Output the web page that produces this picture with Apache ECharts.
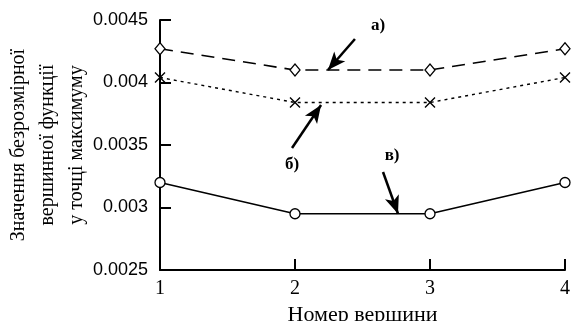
<!DOCTYPE html>
<html><head><meta charset="utf-8">
<script src="https://cdn.jsdelivr.net/npm/echarts@6/dist/echarts.min.js"></script>
<style>html,body{margin:0;background:#fff}#c{width:576px;height:321px}</style>
</head><body><div id="c"></div>
<script>
// ---- data ----
const vertices = [1, 2, 3, 4];
const seriesA = [0.00427, 0.0041, 0.0041, 0.00427];   // а) dashed, diamonds
const seriesB = [0.00404, 0.00384, 0.00384, 0.00404]; // б) dotted, crosses
const seriesC = [0.0032, 0.00295, 0.00295, 0.0032];   // в) solid, circles
const yAxisName = ['Значення безрозмірної', 'вершинної функції', 'у точці максимуму'];
const xAxisName = 'Номер вершини';
// annotations in data coordinates: [label, labelPos, arrowStart, arrowTip]
const annotations = [
  ['а)', [2.615, 0.004452], [2.444, 0.004348], [2.244, 0.0041]],
  ['б)', [1.978, 0.00334], [1.978, 0.003476], [2.193, 0.00382]],
  ['в)', [2.719, 0.003412], [2.652, 0.003284], [2.763, 0.00295]]
];

const pair = (xs, ys) => xs.map((x, i) => [x, ys[i]]);
const serif = 'Liberation Serif';
const chart = echarts.init(document.getElementById('c'), null, {renderer: 'canvas'});

const annLines = annotations.map(a => [
  {coord: a[2], symbol: 'none'},
  {coord: a[3], symbol: 'arrow'}
]);
const annLabels = annotations.map(a => ({
  coord: a[1], value: a[0], symbol: 'circle', symbolSize: 0,
  label: {show: true, formatter: a[0], position: 'inside', color: '#000',
          fontFamily: serif, fontSize: 17, fontWeight: 'bold'}
}));

chart.setOption({
  animation: false,
  backgroundColor: '#fff',
  grid: {left: 160, right: 11, top: 20, bottom: 51, outerBoundsMode: 'none', containLabel: false},
  xAxis: {
    type: 'value', min: 1, max: 4, interval: 1,
    name: xAxisName, nameLocation: 'middle', nameGap: 34, nameMoveOverlap: false,
    nameTextStyle: {fontFamily: serif, fontSize: 22, color: '#000'},
    axisLine: {onZero: false, lineStyle: {color: '#000', width: 2}},
    axisTick: {inside: true, length: 11, lineStyle: {color: '#000', width: 2}},
    axisLabel: {fontFamily: serif, fontSize: 20, color: '#000', margin: 9},
    splitLine: {show: false}
  },
  yAxis: {
    type: 'value', min: 0.0025, max: 0.0045, interval: 0.0005,
    name: yAxisName.join('\n'), nameLocation: 'middle', nameRotate: 90, nameGap: 69,
    nameMoveOverlap: false,
    nameTextStyle: {fontFamily: serif, fontSize: 20, color: '#000', lineHeight: 29},
    axisLine: {show: true, lineStyle: {color: '#000', width: 2}},
    axisTick: {show: true, inside: true, length: 11, lineStyle: {color: '#000', width: 2}},
    axisLabel: {fontFamily: 'Liberation Sans', fontSize: 18, color: '#000', margin: 12,
                formatter: v => String(+v.toFixed(4))},
    splitLine: {show: false}
  },
  series: [
    {
      type: 'line', data: pair(vertices, seriesA),
      symbol: 'diamond', symbolSize: [10, 12], showAllSymbol: true,
      lineStyle: {color: '#000', width: 1.6, type: [13, 8]},
      itemStyle: {color: '#fff', borderColor: '#000', borderWidth: 1.3},
      markLine: {silent: true, symbolSize: [11, 18], lineStyle: {color: '#000', width: 2.5, type: 'solid'},
                 label: {show: false}, data: annLines},
      markPoint: {silent: true, data: annLabels}
    },
    {
      type: 'line', data: pair(vertices, seriesB),
      symbol: 'path://M0,0L10,10M10,0L0,10', symbolSize: 10,
      lineStyle: {color: '#000', width: 1.4, type: [3, 4]},
      itemStyle: {color: 'none', borderColor: '#000', borderWidth: 1.4}
    },
    {
      type: 'line', data: pair(vertices, seriesC),
      symbol: 'circle', symbolSize: 10,
      lineStyle: {color: '#000', width: 1.6},
      itemStyle: {color: '#fff', borderColor: '#000', borderWidth: 1.3}
    }
  ]
});
</script></body></html>
